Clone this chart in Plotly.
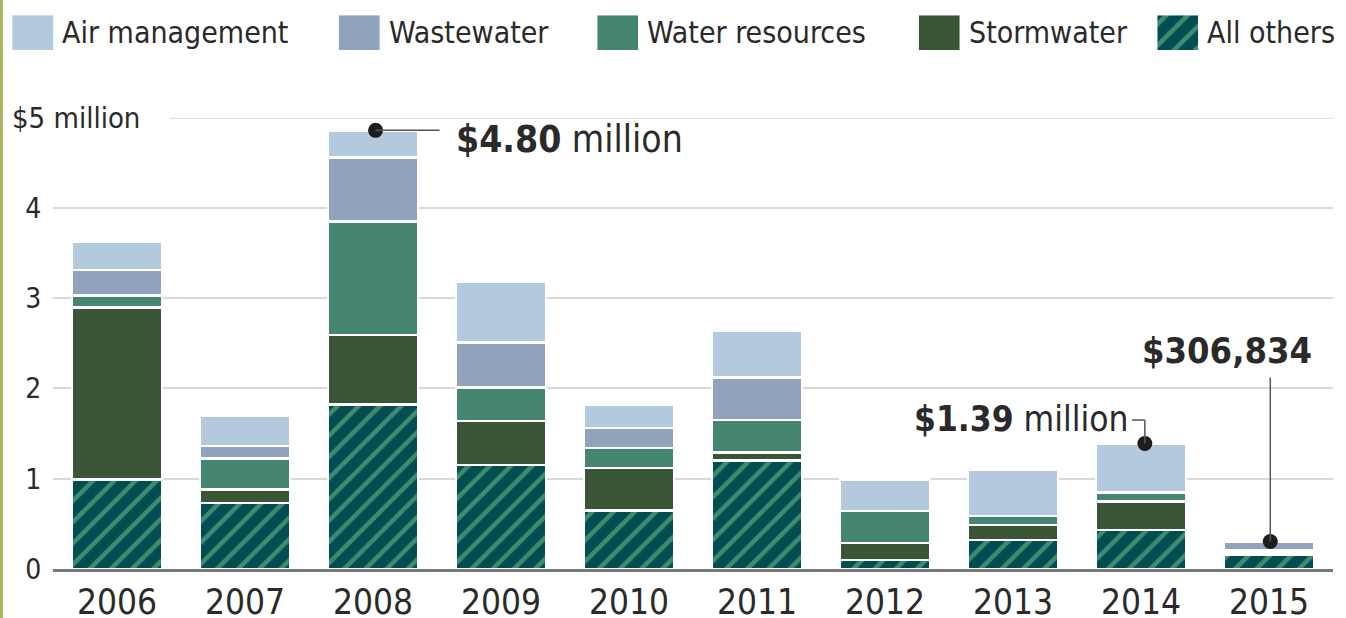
import plotly.graph_objects as go

# ---------------- data (millions of dollars) ----------------
years = ["2006", "2007", "2008", "2009", "2010", "2011", "2012", "2013", "2014", "2015"]
all_others = [0.99, 0.73, 1.82, 1.15, 0.65, 1.20, 0.10, 0.32, 0.43, 0.155]
stormwater = [1.91, 0.15, 0.77, 0.49, 0.47, 0.09, 0.19, 0.17, 0.32, 0.02]
water_resources = [0.13, 0.345, 1.26, 0.37, 0.22, 0.36, 0.35, 0.10, 0.10, 0.03]
wastewater = [0.28, 0.135, 0.71, 0.50, 0.22, 0.47, None, None, None, 0.10]
air_management = [0.32, 0.34, 0.30, 0.67, 0.26, 0.52, 0.35, 0.51, 0.54, None]

y_tick_vals = [0, 1, 2, 3, 4]
y_tick_text = ["0", "1", "2", "3", "4"]
top_label = "$5 million"

callout_years = ["2008", "2014", "2015"]
callout_texts = ["<b>$4.80</b> million", "<b>$1.39</b> million", "<b>$306,834</b>"]

legend_names = ["Air management", "Wastewater", "Water resources", "Stormwater", "All others"]

# ---------------- styles ----------------
FONT = "DejaVu Sans Condensed, Liberation Sans Narrow, DejaVu Sans, sans-serif"
TXT = "#2a2a2a"
C_AIR = "#b2c9de"
C_WASTE = "#91a3ba"
C_WATER = "#468670"
C_STORM = "#3a5536"
C_OTH_BG = "#014d4f"
C_OTH_FG = "#3f8b71"
HATCH = dict(shape="/", bgcolor=C_OTH_BG, fgcolor=C_OTH_FG, size=15, solidity=0.3, fillmode="replace")
WHITE_LINE = dict(color="white", width=2.5)

W, H = 1346, 618
def px_x(p):
    return p / W
def px_y(p):
    return (H - p) / H

fig = go.Figure()

series = [
    ("All others", all_others, dict(color=C_OTH_BG, pattern=HATCH, line=WHITE_LINE)),
    ("Stormwater", stormwater, dict(color=C_STORM, line=WHITE_LINE)),
    ("Water resources", water_resources, dict(color=C_WATER, line=WHITE_LINE)),
    ("Wastewater", wastewater, dict(color=C_WASTE, line=WHITE_LINE)),
    ("Air management", air_management, dict(color=C_AIR, line=WHITE_LINE)),
]
for name, vals, marker in series:
    fig.add_trace(go.Bar(x=years, y=vals, name=name, marker=marker, showlegend=False,
                         xaxis="x", yaxis="y", hoverinfo="x+y+name"))

# totals for the call-out dots
totals = {}
for i, yr in enumerate(years):
    totals[yr] = sum(v[i] or 0 for _, v, _ in series)

# ---------------- custom legend (swatches are bars on an overlay axis) -------------
leg_centers = [32.5, 359, 617.5, 939, 1177.5]
leg_markers = [dict(color=C_AIR), dict(color=C_WASTE), dict(color=C_WATER),
               dict(color=C_STORM), dict(color=C_OTH_BG, pattern=HATCH)]
for name, cx, mk in zip(legend_names, leg_centers, leg_markers):
    fig.add_trace(go.Bar(x=[cx], y=[1], width=[41], marker=mk, showlegend=False,
                         xaxis="x2", yaxis="y2", hoverinfo="skip", name=name))

annotations = []
for name, cx in zip(legend_names, leg_centers):
    annotations.append(dict(x=cx + 20.5 + 7, y=px_y(33), xref="x2", yref="paper",
                            text=name, showarrow=False, xanchor="left", yanchor="middle",
                            font=dict(family=FONT, size=30, color=TXT)))

annotations.append(dict(x=px_x(10), y=5, xref="paper", yref="y", text=top_label,
                        showarrow=False, xanchor="left", yanchor="middle",
                        font=dict(family=FONT, size=29, color=TXT)))

# call-out labels
annotations.append(dict(x=2.63, y=4.76, xref="x", yref="y", text=callout_texts[0],
                        showarrow=False, xanchor="left", yanchor="middle",
                        font=dict(family=FONT, size=37, color=TXT)))
annotations.append(dict(x=7.925, y=1.66, xref="x", yref="y", text=callout_texts[1],
                        showarrow=False, xanchor="right", yanchor="middle",
                        font=dict(family=FONT, size=35, color=TXT)))
annotations.append(dict(x=8.675, y=2.42, xref="x", yref="y", text=callout_texts[2],
                        showarrow=False, xanchor="center", yanchor="middle",
                        font=dict(family=FONT, size=36, color=TXT)))

LEAD = dict(color="#555555", width=1.5)
shapes = [
    # olive rule at far left
    dict(type="rect", xref="paper", yref="paper", x0=0, x1=px_x(3), y0=0, y1=1,
         fillcolor="#abb65e", line=dict(width=0), layer="above"),
    # top gridline ($5 million)
    dict(type="line", xref="paper", yref="y", x0=px_x(170), x1=px_x(1333), y0=5, y1=5,
         line=dict(color="#d9d9d9", width=2), layer="below"),
    # leaders
    dict(type="line", xref="x", yref="y", x0=2.02, x1=2.52, y0=totals["2008"], y1=totals["2008"], line=LEAD, layer="above"),
    dict(type="line", xref="x", yref="y", x0=8.03, x1=8.03, y0=totals["2014"], y1=1.65, line=LEAD, layer="above"),
    dict(type="line", xref="x", yref="y", x0=8.03, x1=7.93, y0=1.65, y1=1.65, line=LEAD, layer="above"),
    dict(type="line", xref="x", yref="y", x0=9.01, x1=9.01, y0=totals["2015"], y1=2.12, line=LEAD, layer="above"),
]

# dots drawn last so they sit over the leader lines
fig.add_trace(go.Scatter(
    x=[2.02, 8.03, 9.01], y=[totals[y] for y in callout_years], mode="markers",
    marker=dict(color="#1e1c1d", size=15), showlegend=False, cliponaxis=False,
    xaxis="x3", yaxis="y3", hoverinfo="skip"))

fig.update_layout(
    width=W, height=H,
    margin=dict(l=0, r=0, t=0, b=0),
    paper_bgcolor="white", plot_bgcolor="white",
    barmode="stack", bargap=0.297,
    showlegend=False,
    font=dict(family=FONT, color=TXT),
    xaxis=dict(domain=[px_x(53), px_x(1333)], type="category", showgrid=False,
               showline=True, linecolor="#7a7a7a", linewidth=3, zeroline=False,
               ticks="", ticklen=0,
               tickfont=dict(family=FONT, size=35, color=TXT), automargin=False,
               fixedrange=True),
    yaxis=dict(domain=[px_y(569), px_y(117.7)], range=[0, 5], tickvals=y_tick_vals,
               ticktext=y_tick_text, showgrid=True, gridcolor="#d9d9d9", gridwidth=2,
               zeroline=False, showline=False, ticks="outside", ticklen=5,
               tickcolor="rgba(0,0,0,0)", tickfont=dict(family=FONT, size=28, color=TXT),
               automargin=False, fixedrange=True),
    xaxis2=dict(domain=[0, 1], range=[0, W], visible=False, anchor="y2", fixedrange=True),
    yaxis2=dict(domain=[px_y(50), px_y(15)], range=[0, 1], visible=False, anchor="x2",
                fixedrange=True),
    # numeric twin of the category axis, used only for the call-out dots
    xaxis3=dict(domain=[px_x(53), px_x(1333)], range=[-0.5, 9.5], visible=False,
                anchor="y3", overlaying="x", fixedrange=True),
    yaxis3=dict(domain=[px_y(569), px_y(117.7)], range=[0, 5], visible=False,
                anchor="x3", overlaying="y", fixedrange=True),
    annotations=annotations,
    shapes=shapes,
)

fig.write_html("out.html", config={"displayModeBar": False},
               post_script="document.body.style.margin='0px';document.body.style.overflow='hidden';")
